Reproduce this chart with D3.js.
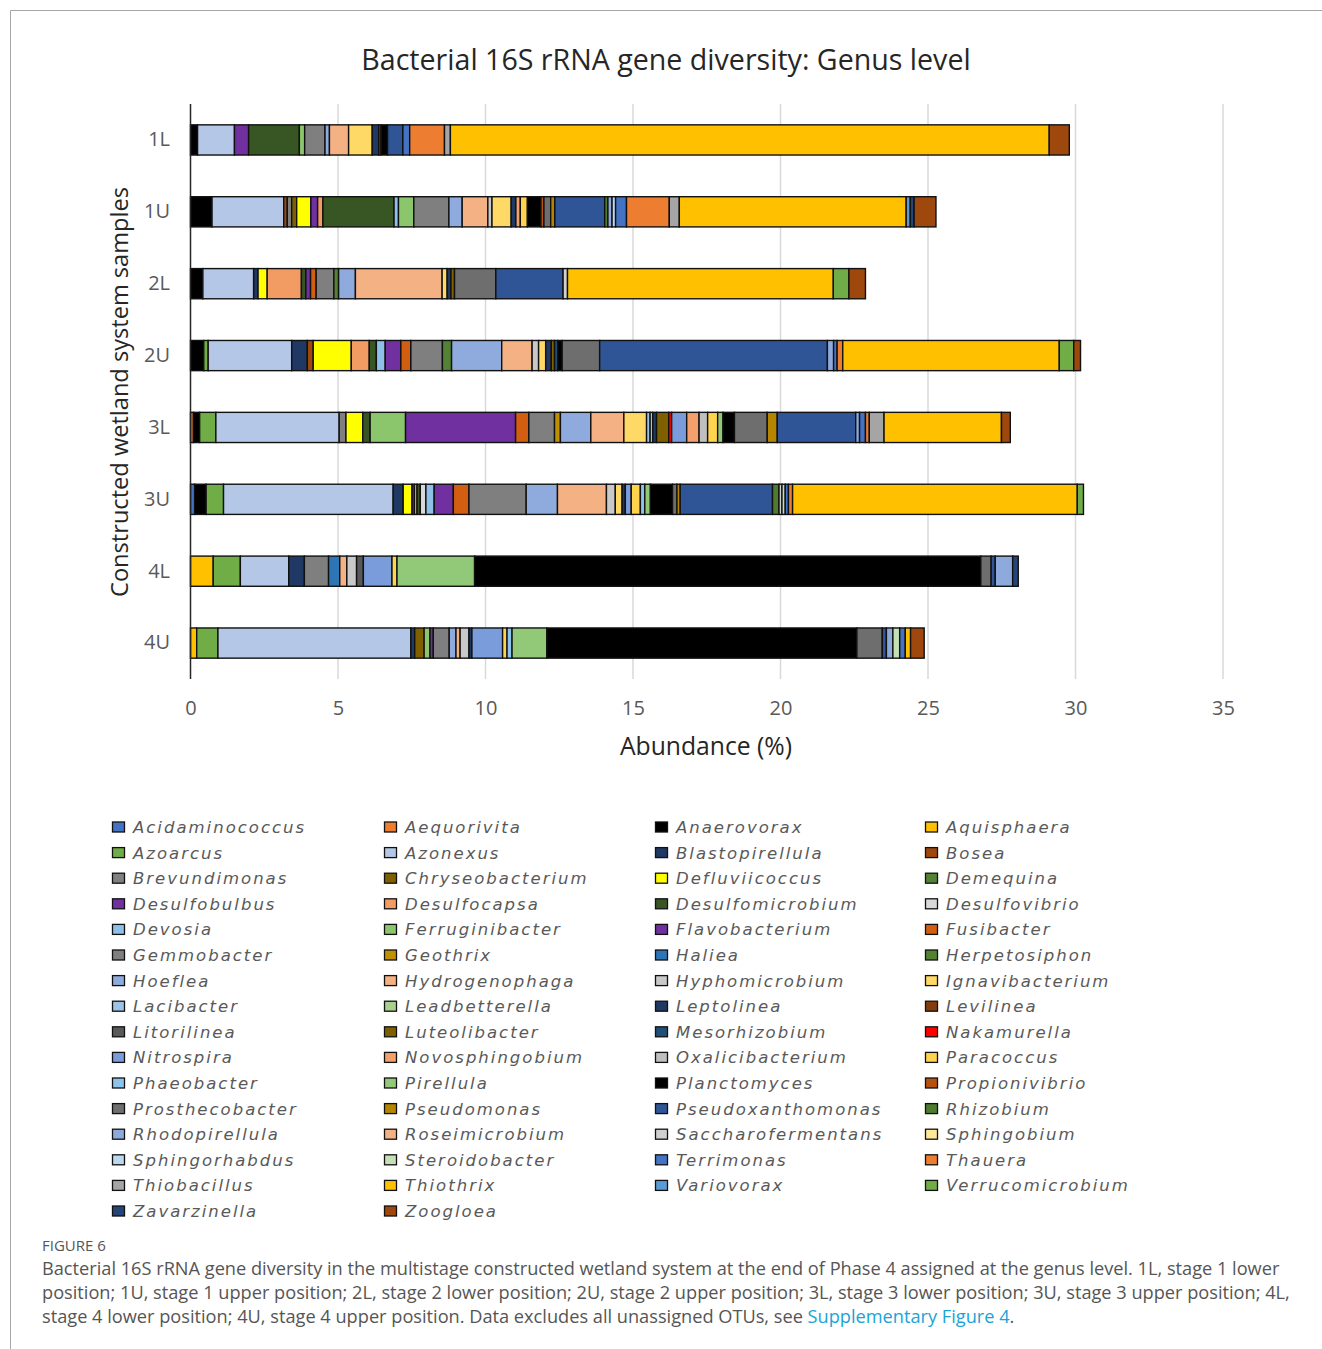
<!DOCTYPE html>
<html>
<head>
<meta charset="utf-8">
<script src="https://cdn.jsdelivr.net/npm/d3@7/dist/d3.min.js"></script>
<style>
  body { margin: 0; background: #fff; }
  svg { display: block; }
</style>
</head>
<body>
<div id="chart"></div>
<script>
// samples, top to bottom
const samples = ["1L", "1U", "2L", "2U", "3L", "3U", "4L", "4U"];

// genera in stacking / legend order
const genera = [
  "Acidaminococcus", "Aequorivita", "Anaerovorax", "Aquisphaera",
  "Azoarcus", "Azonexus", "Blastopirellula", "Bosea",
  "Brevundimonas", "Chryseobacterium", "Defluviicoccus", "Demequina",
  "Desulfobulbus", "Desulfocapsa", "Desulfomicrobium", "Desulfovibrio",
  "Devosia", "Ferruginibacter", "Flavobacterium", "Fusibacter",
  "Gemmobacter", "Geothrix", "Haliea", "Herpetosiphon",
  "Hoeflea", "Hydrogenophaga", "Hyphomicrobium", "Ignavibacterium",
  "Lacibacter", "Leadbetterella", "Leptolinea", "Levilinea",
  "Litorilinea", "Luteolibacter", "Mesorhizobium", "Nakamurella",
  "Nitrospira", "Novosphingobium", "Oxalicibacterium", "Paracoccus",
  "Phaeobacter", "Pirellula", "Planctomyces", "Propionivibrio",
  "Prosthecobacter", "Pseudomonas", "Pseudoxanthomonas", "Rhizobium",
  "Rhodopirellula", "Roseimicrobium", "Saccharofermentans", "Sphingobium",
  "Sphingorhabdus", "Steroidobacter", "Terrimonas", "Thauera",
  "Thiobacillus", "Thiothrix", "Variovorax", "Verrucomicrobium",
  "Zavarzinella", "Zoogloea"
];

const generaColors = [
  "#4472C4", "#ED7D31", "#000000", "#FFC000",
  "#70AD47", "#B4C7E7", "#203864", "#9E480E",
  "#808080", "#7F6000", "#FFFF00", "#548235",
  "#7030A0", "#F29B62", "#375623", "#D9D9D9",
  "#8FC0EA", "#8CC66C", "#7030A0", "#D25E12",
  "#7F7F7F", "#BF9000", "#2E75B6", "#548235",
  "#8FAADC", "#F4B183", "#C9C9C9", "#FFD966",
  "#9DC3E6", "#A9D18E", "#1F3864", "#843C0C",
  "#595959", "#7F6000", "#1F4E79", "#FF0000",
  "#7A9CDB", "#F4A06C", "#BFBFBF", "#FFD34D",
  "#8EC3EC", "#92C979", "#000000", "#B5520F",
  "#6E6E6E", "#B58500", "#2F5597", "#4E7B2E",
  "#8EA9DB", "#F4B183", "#D0D0D0", "#FFE699",
  "#BDD7EE", "#C5E0B4", "#4472C4", "#ED7D31",
  "#A5A5A5", "#FFC000", "#5B9BD5", "#70AD47",
  "#264478", "#9E480E"
];

// abundance (%) per sample, genera not listed are 0
const v1L = {
  Anaerovorax: 0.24, Azonexus: 1.25, Desulfobulbus: 0.48, Desulfomicrobium: 1.72,
  Ferruginibacter: 0.18, Gemmobacter: 0.69, Hoeflea: 0.15, Hydrogenophaga: 0.65,
  Ignavibacterium: 0.80, Leptolinea: 0.22, Levilinea: 0.08, Planctomyces: 0.22,
  Pseudoxanthomonas: 0.52, Terrimonas: 0.23, Thauera: 1.18, Thiobacillus: 0.20,
  Thiothrix: 20.30, Zoogloea: 0.68
};
const v1U = {
  Anaerovorax: 0.73, Azonexus: 2.43, Bosea: 0.12, Brevundimonas: 0.15,
  Chryseobacterium: 0.17, Defluviicoccus: 0.48, Desulfobulbus: 0.23, Desulfocapsa: 0.18,
  Desulfomicrobium: 2.41, Devosia: 0.15, Ferruginibacter: 0.52, Gemmobacter: 1.19,
  Hoeflea: 0.45, Hydrogenophaga: 0.87, Hyphomicrobium: 0.14, Ignavibacterium: 0.65,
  Leptolinea: 0.16, Novosphingobium: 0.15, Paracoccus: 0.24, Planctomyces: 0.46,
  Propionivibrio: 0.10, Prosthecobacter: 0.23, Pseudomonas: 0.14, Pseudoxanthomonas: 1.69,
  Rhizobium: 0.11, Rhodopirellula: 0.14, Sphingorhabdus: 0.12, Terrimonas: 0.37,
  Thauera: 1.45, Thiobacillus: 0.34, Thiothrix: 7.69, Variovorax: 0.14,
  Zavarzinella: 0.13, Zoogloea: 0.74
};
const v2L = {
  Anaerovorax: 0.42, Azonexus: 1.72, Blastopirellula: 0.15, Defluviicoccus: 0.31,
  Desulfocapsa: 1.16, Desulfomicrobium: 0.15, Flavobacterium: 0.16, Fusibacter: 0.19,
  Gemmobacter: 0.60, Herpetosiphon: 0.16, Hoeflea: 0.57, Hydrogenophaga: 2.94,
  Ignavibacterium: 0.17, Leptolinea: 0.13, Luteolibacter: 0.12, Prosthecobacter: 1.40,
  Pseudoxanthomonas: 2.28, Saccharofermentans: 0.15, Thiothrix: 9.01, Verrucomicrobium: 0.53,
  Zoogloea: 0.56
};
const v2U = {
  Anaerovorax: 0.45, Azoarcus: 0.15, Azonexus: 2.83, Blastopirellula: 0.53,
  Bosea: 0.20, Defluviicoccus: 1.29, Desulfocapsa: 0.61, Desulfomicrobium: 0.24,
  Devosia: 0.30, Flavobacterium: 0.53, Fusibacter: 0.34, Gemmobacter: 1.07,
  Herpetosiphon: 0.31, Hoeflea: 1.70, Hydrogenophaga: 1.03, Hyphomicrobium: 0.22,
  Ignavibacterium: 0.24, Leptolinea: 0.19, Luteolibacter: 0.11, Mesorhizobium: 0.11,
  Planctomyces: 0.15, Prosthecobacter: 1.27, Pseudoxanthomonas: 7.72, Rhodopirellula: 0.21,
  Terrimonas: 0.12, Thauera: 0.19, Thiothrix: 7.34, Verrucomicrobium: 0.49,
  Zoogloea: 0.23
};
const v3L = {
  Aequorivita: 0.10, Anaerovorax: 0.21, Azoarcus: 0.55, Azonexus: 4.18,
  Brevundimonas: 0.23, Defluviicoccus: 0.57, Desulfomicrobium: 0.25, Ferruginibacter: 1.20,
  Flavobacterium: 3.73, Fusibacter: 0.45, Gemmobacter: 0.87, Geothrix: 0.20,
  Hoeflea: 1.03, Hydrogenophaga: 1.12, Ignavibacterium: 0.77, Lacibacter: 0.12,
  Leadbetterella: 0.09, Leptolinea: 0.13, Luteolibacter: 0.41, Nakamurella: 0.10,
  Nitrospira: 0.51, Novosphingobium: 0.42, Oxalicibacterium: 0.29, Paracoccus: 0.34,
  Pirellula: 0.18, Planctomyces: 0.39, Prosthecobacter: 1.11, Pseudomonas: 0.34,
  Pseudoxanthomonas: 2.66, Rhodopirellula: 0.13, Terrimonas: 0.20, Thauera: 0.13,
  Thiobacillus: 0.50, Thiothrix: 3.98, Zoogloea: 0.30
};
const v3U = {
  Acidaminococcus: 0.14, Anaerovorax: 0.39, Azoarcus: 0.59, Azonexus: 5.75,
  Blastopirellula: 0.34, Defluviicoccus: 0.30, Desulfobulbus: 0.08, Desulfocapsa: 0.09,
  Desulfomicrobium: 0.11, Desulfovibrio: 0.19, Devosia: 0.28, Flavobacterium: 0.65,
  Fusibacter: 0.53, Gemmobacter: 1.94, Hoeflea: 1.06, Hydrogenophaga: 1.66,
  Hyphomicrobium: 0.30, Ignavibacterium: 0.23, Leptolinea: 0.11, Nitrospira: 0.20,
  Paracoccus: 0.31, Phaeobacter: 0.15, Pirellula: 0.19, Planctomyces: 0.75,
  Prosthecobacter: 0.15, Pseudomonas: 0.11, Pseudoxanthomonas: 3.13, Rhizobium: 0.22,
  Saccharofermentans: 0.10, Steroidobacter: 0.11, Terrimonas: 0.11, Thauera: 0.14,
  Thiothrix: 9.65, Verrucomicrobium: 0.21
};
const v4L = {
  Aquisphaera: 0.77, Azoarcus: 0.92, Azonexus: 1.64, Blastopirellula: 0.53,
  Gemmobacter: 0.82, Haliea: 0.38, Hydrogenophaga: 0.24, Hyphomicrobium: 0.33,
  Litorilinea: 0.23, Nitrospira: 0.97, Paracoccus: 0.17, Pirellula: 2.63,
  Planctomyces: 17.16, Prosthecobacter: 0.35, Pseudoxanthomonas: 0.14, Rhodopirellula: 0.59,
  Zavarzinella: 0.19
};
const v4U = {
  Aquisphaera: 0.21, Azoarcus: 0.72, Azonexus: 6.54, Blastopirellula: 0.13,
  Chryseobacterium: 0.32, Ferruginibacter: 0.20, Flavobacterium: 0.11, Gemmobacter: 0.54,
  Hoeflea: 0.23, Hydrogenophaga: 0.14, Hyphomicrobium: 0.30, Leptolinea: 0.10,
  Nitrospira: 1.04, Paracoccus: 0.15, Phaeobacter: 0.17, Pirellula: 1.18,
  Planctomyces: 10.51, Prosthecobacter: 0.86, Pseudoxanthomonas: 0.14, Rhodopirellula: 0.22,
  Steroidobacter: 0.23, Terrimonas: 0.19, Thiothrix: 0.18, Zoogloea: 0.46
};
const sampleValues = [v1L, v1U, v2L, v2U, v3L, v3U, v4L, v4U];

const xTicks = [0, 5, 10, 15, 20, 25, 30, 35];

const captionLines = [
  "Bacterial 16S rRNA gene diversity in the multistage constructed wetland system at the end of Phase 4 assigned at the genus level. 1L, stage 1 lower",
  "position; 1U, stage 1 upper position; 2L, stage 2 lower position; 2U, stage 2 upper position; 3L, stage 3 lower position; 3U, stage 3 upper position; 4L,",
  "stage 4 lower position; 4U, stage 4 upper position. Data excludes all unassigned OTUs, see "
];

const W = 1322, H = 1349;
const chartFont = "'Open Sans', sans-serif";
const grey = "#595959";

const svg = d3.select("#chart").append("svg")
  .attr("width", W)
  .attr("height", H);

// frame
svg.append("path")
  .attr("d", "M10.5," + H + "V10.5H" + W)
  .attr("fill", "none")
  .attr("stroke", "#a6a6a6")
  .attr("stroke-width", 1);

const x = d3.scaleLinear().domain([0, 35]).range([190.5, 1223]);
const y = d3.scaleBand().domain(samples).range([104, 679])
  .paddingInner(0.58).paddingOuter(0.29);
const color = d3.scaleOrdinal().domain(genera).range(generaColors);

// grid
svg.append("g")
  .selectAll("line")
  .data(xTicks.filter(d => d > 0))
  .enter()
  .append("line")
  .attr("x1", d => x(d)).attr("x2", d => x(d))
  .attr("y1", 104).attr("y2", 679)
  .attr("stroke", "#d9d9d9")
  .attr("stroke-width", 1.5);

// stacked bars
const rows = samples.map((s, i) => Object.assign({ sample: s }, sampleValues[i]));
const series = d3.stack()
  .keys(genera)
  .value((d, k) => d[k] || 0)(rows);

svg.append("g")
  .selectAll("g")
  .data(series)
  .enter()
  .append("g")
  .attr("fill", d => color(d.key))
  .selectAll("rect")
  .data(d => d.filter(p => p[1] - p[0] > 0))
  .enter()
  .append("rect")
  .attr("x", d => x(d[0]))
  .attr("y", d => y(d.data.sample))
  .attr("width", d => x(d[1]) - x(d[0]))
  .attr("height", y.bandwidth())
  .attr("stroke", "#111")
  .attr("stroke-width", 1.4);

// left axis line
svg.append("line")
  .attr("x1", 190.5).attr("x2", 190.5)
  .attr("y1", 104).attr("y2", 679)
  .attr("stroke", "#262626")
  .attr("stroke-width", 1.5);

// x tick labels
const xAxis = svg.append("g")
  .attr("transform", "translate(0,679)")
  .call(d3.axisBottom(x).tickValues(xTicks).tickSize(0).tickPadding(22));
xAxis.select(".domain").remove();
xAxis.selectAll("text")
  .attr("font-family", chartFont)
  .attr("font-size", 20)
  .attr("fill", grey);

// y labels
const yAxis = svg.append("g")
  .attr("transform", "translate(170,0)")
  .call(d3.axisLeft(y).tickSize(0).tickPadding(0));
yAxis.select(".domain").remove();
yAxis.selectAll("text")
  .attr("font-family", chartFont)
  .attr("font-size", 20)
  .attr("fill", grey);

// titles
svg.append("text")
  .attr("x", 666).attr("y", 70)
  .attr("text-anchor", "middle")
  .attr("font-family", chartFont)
  .attr("font-size", 28.6)
  .attr("fill", "#262626")
  .text("Bacterial 16S rRNA gene diversity: Genus level");

svg.append("text")
  .attr("x", 706).attr("y", 755)
  .attr("text-anchor", "middle")
  .attr("font-family", chartFont)
  .attr("font-size", 24.7)
  .attr("fill", "#262626")
  .text("Abundance (%)");

svg.append("text")
  .attr("transform", "translate(128,392) rotate(-90)")
  .attr("text-anchor", "middle")
  .attr("font-family", chartFont)
  .attr("font-size", 23.6)
  .attr("fill", "#262626")
  .text("Constructed wetland system samples");

// legend
const legColX = [112, 384, 655, 925];
const legend = svg.append("g")
  .selectAll("g")
  .data(genera)
  .enter()
  .append("g")
  .attr("transform", (d, i) => "translate(" + legColX[i % 4] + "," + (827 + Math.floor(i / 4) * 25.6) + ")");

legend.append("rect")
  .attr("x", 0.5).attr("y", -5)
  .attr("width", 12).attr("height", 10)
  .attr("fill", d => color(d))
  .attr("stroke", "#111")
  .attr("stroke-width", 1.3);

legend.append("text")
  .attr("x", 21).attr("y", 6)
  .attr("font-family", "'DejaVu Sans', sans-serif")
  .attr("font-style", "italic")
  .attr("font-size", 16.5)
  .attr("letter-spacing", 2)
  .attr("fill", grey)
  .text(d => d);

// caption
svg.append("text")
  .attr("x", 42).attr("y", 1251)
  .attr("font-family", "'Open Sans', sans-serif")
  .attr("font-size", 15)
  .attr("fill", "#555")
  .text("FIGURE 6");

const cap = svg.append("g")
  .attr("font-family", "'Open Sans', sans-serif")
  .attr("font-size", 18.2)
  .attr("fill", "#555");

cap.selectAll("text")
  .data(captionLines)
  .enter()
  .append("text")
  .attr("x", 42)
  .attr("y", (d, i) => 1275 + i * 24)
  .text(d => d)
  .filter((d, i) => i === captionLines.length - 1)
  .append("tspan")
  .attr("fill", "#1aa3d6")
  .text("Supplementary Figure 4")
  .select(function () { return this.parentNode; })
  .append("tspan")
  .attr("fill", "#555")
  .text(".");
</script>
</body>
</html>
